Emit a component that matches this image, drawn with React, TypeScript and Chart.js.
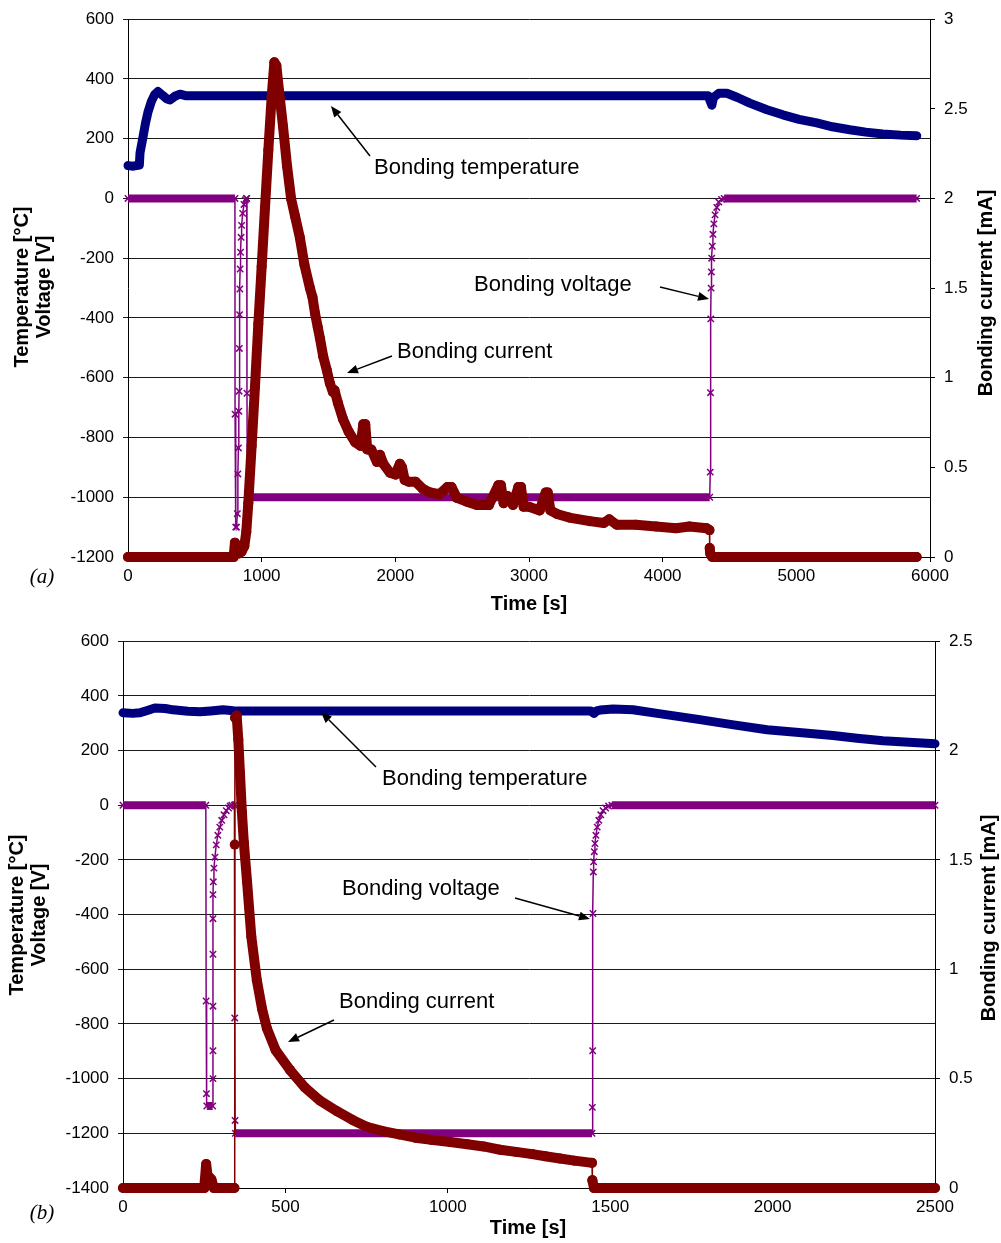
import React, { useEffect, useRef } from "react";
import { Chart, registerables } from "chart.js";

Chart.register(...registerables);

// ---------------- Panel (a) data ----------------
const tempA_t = [0, 40, 85, 90, 110, 130, 150, 175, 200, 224, 260, 290, 314, 350, 389, 430, 500, 1000, 2000, 3000, 4000, 4340, 4368, 4380, 4420, 4480, 4560, 4652, 4780, 4899, 5020, 5153, 5270, 5400, 5520, 5647, 5780, 5901];
const tempA_v = [110, 108, 112, 153, 200, 250, 290, 325, 348, 358, 345, 333, 330, 342, 349, 344, 344, 344, 344, 344, 344, 344, 312, 338, 352, 352, 338, 319, 297, 280, 265, 253, 240, 230, 222, 216, 212, 210];

const voltA_t = [0, 800, 801, 806, 812, 818, 822, 826, 829, 831, 833, 835, 837, 839, 842, 846, 850, 858, 868, 878, 886, 888, 890, 893, 900, 4352, 4356, 4358, 4360, 4362, 4364, 4367, 4371, 4376, 4383, 4392, 4405, 4420, 4440, 4460, 5900];
const voltA_v = [0, 0, -722, -1100, -1100, -1055, -922, -835, -712, -645, -502, -389, -303, -236, -180, -130, -90, -50, -20, -5, 0, 0, -652, -990, -1000, -1000, -916, -650, -403, -300, -246, -200, -160, -120, -85, -55, -30, -12, -3, 0, 0];

const curA_t = [0, 200, 400, 600, 790, 800, 812, 830, 850, 870, 885, 900, 925, 950, 975, 1000, 1025, 1050, 1075, 1095, 1110, 1130, 1160, 1190, 1220, 1250, 1286, 1320, 1361, 1380, 1399, 1420, 1436, 1460, 1488, 1510, 1533, 1545, 1570, 1608, 1650, 1700, 1740, 1760, 1775, 1790, 1820, 1862, 1885, 1910, 1960, 2000, 2034, 2050, 2070, 2100, 2150, 2206, 2260, 2330, 2390, 2420, 2460, 2530, 2610, 2700, 2770, 2790, 2810, 2840, 2880, 2920, 2940, 2960, 3000, 3080, 3125, 3140, 3160, 3209, 3300, 3455, 3560, 3600, 3657, 3800, 3950, 4100, 4200, 4330, 4350, 4352, 4356, 4370, 4500, 4800, 5200, 5600, 5900];
const curA_v = [0, 0, 0, 0, 0, 0.08, 0.03, 0.02, 0.03, 0.06, 0.14, 0.3, 0.62, 0.95, 1.3, 1.62, 1.95, 2.27, 2.57, 2.76, 2.74, 2.6, 2.4, 2.18, 2.0, 1.9, 1.78, 1.63, 1.5, 1.45, 1.36, 1.28, 1.22, 1.12, 1.04, 0.97, 0.92, 0.93, 0.86, 0.77, 0.7, 0.64, 0.62, 0.74, 0.74, 0.6, 0.6, 0.53, 0.57, 0.52, 0.47, 0.46, 0.52, 0.5, 0.43, 0.42, 0.42, 0.38, 0.36, 0.35, 0.39, 0.39, 0.33, 0.31, 0.29, 0.29, 0.4, 0.4, 0.3, 0.34, 0.29, 0.39, 0.39, 0.28, 0.28, 0.26, 0.36, 0.36, 0.26, 0.24, 0.22, 0.2, 0.19, 0.21, 0.18, 0.18, 0.17, 0.16, 0.17, 0.16, 0.15, 0.05, 0.02, 0, 0, 0, 0, 0, 0];

// ---------------- Panel (b) data ----------------
const tempB_t = [0, 30, 52, 70, 98, 130, 154, 200, 237, 270, 308, 340, 360, 500, 1000, 1440, 1450, 1458, 1469, 1509, 1570, 1650, 1776, 1880, 1983, 2090, 2186, 2260, 2340, 2420, 2500];
const tempB_v = [338, 336, 338, 345, 356, 354, 349, 344, 342, 345, 349, 346, 345, 345, 345, 345, 336, 345, 348, 352, 349, 335, 313, 294, 276, 265, 255, 245, 236, 230, 225];

const voltB_t = [0, 255, 256, 257, 258, 276, 277, 277, 277, 277, 277, 277, 278, 280, 283, 287, 292, 298, 304, 311, 318, 325, 330, 335, 343, 344, 345, 346, 1444, 1445, 1446, 1447, 1448, 1449, 1451, 1453, 1456, 1460, 1465, 1471, 1478, 1486, 1495, 1505, 2500];
const voltB_v = [0, 0, -716, -1055, -1100, -1100, -1000, -898, -735, -545, -415, -327, -280, -230, -190, -145, -110, -80, -55, -35, -20, -10, -3, 0, 0, -778, -1153, -1200, -1200, -1105, -898, -396, -244, -207, -170, -140, -110, -80, -55, -35, -20, -10, -3, 0, 0];

const curB_t = [0, 100, 200, 250, 256, 260, 265, 272, 280, 343, 344, 345, 350, 355, 360, 366, 372, 382, 395, 412, 428, 443, 470, 514, 560, 606, 660, 708, 750, 800, 850, 900, 950, 1007, 1060, 1110, 1161, 1210, 1260, 1300, 1345, 1390, 1444, 1445, 1450, 1600, 1800, 2000, 2200, 2400, 2500];
const curB_v = [0, 0, 0, 0, 0.11, 0.06, 0.05, 0.04, 0, 0, 1.57, 2.15, 2.16, 2.05, 1.9, 1.72, 1.58, 1.4, 1.15, 0.95, 0.82, 0.73, 0.63, 0.54, 0.46, 0.4, 0.35, 0.31, 0.28, 0.26, 0.245, 0.23, 0.22, 0.21, 0.2, 0.19, 0.175, 0.165, 0.155, 0.145, 0.135, 0.125, 0.115, 0.036, 0, 0, 0, 0, 0, 0, 0];

// ---------------- styling ----------------
const FONT = '"Liberation Sans", Arial, Helvetica, sans-serif';
const BLUE = "#00007f";
const PURPLE = "#800080";
const RED = "#800000";

const zip = (xs: number[], ys: number[]) => xs.map((x, i) => ({ x, y: ys[i] }));

const annotPlugin = {
  id: "annot",
  afterDraw(chart: any, _args: any, opts: any) {
    const p = opts.panel;
    if (!p) return;
    const ctx = chart.ctx as CanvasRenderingContext2D;
    ctx.save();
    ctx.fillStyle = "#000";
    ctx.strokeStyle = "#000";
    ctx.textBaseline = "middle";

    const rot = (text: string, x: number, y: number) => {
      ctx.save();
      ctx.translate(x, y);
      ctx.rotate(-Math.PI / 2);
      ctx.textAlign = "center";
      ctx.fillText(text, 0, 0);
      ctx.restore();
    };
    ctx.font = `bold 20px ${FONT}`;
    rot("Temperature [°C]", p.leftTitle.x1, p.leftTitle.y);
    rot("Voltage [V]", p.leftTitle.x2, p.leftTitle.y);
    rot("Bonding current [mA]", p.rightTitle.x, p.rightTitle.y);
    ctx.textAlign = "center";
    ctx.fillText("Time [s]", p.xTitle.x, p.xTitle.y);

    ctx.font = `italic 21px "Liberation Serif", "Times New Roman", serif`;
    ctx.textAlign = "center";
    ctx.fillText(p.tag.text, p.tag.x, p.tag.y);

    ctx.font = `22px ${FONT}`;
    ctx.textAlign = "left";
    for (const l of p.labels) ctx.fillText(l.text, l.x, l.y);

    ctx.lineWidth = 1.5;
    for (const a of p.arrows) {
      const [x0, y0, x1, y1] = a;
      const ang = Math.atan2(y1 - y0, x1 - x0);
      const hl = 11, hw = 4.5;
      const bx = x1 - hl * Math.cos(ang), by = y1 - hl * Math.sin(ang);
      ctx.beginPath();
      ctx.moveTo(x0, y0);
      ctx.lineTo(bx, by);
      ctx.stroke();
      ctx.beginPath();
      ctx.moveTo(x1, y1);
      ctx.lineTo(bx + hw * Math.sin(ang), by - hw * Math.cos(ang));
      ctx.lineTo(bx - hw * Math.sin(ang), by + hw * Math.cos(ang));
      ctx.closePath();
      ctx.fill();
    }
    ctx.restore();
  },
};

type PanelCfg = {
  temp: { x: number; y: number }[];
  volt: { x: number; y: number }[];
  cur: { x: number; y: number }[];
  xMax: number;
  xStep: number;
  yMin: number;
  rMax: number;
  leftW: number;
  rightW: number;
  bottomH: number;
  panel: any;
};

function buildConfig(c: PanelCfg): any {
  const tickFont = { family: FONT, size: 17 };
  return {
    type: "line",
    data: {
      datasets: [
        {
          label: "Bonding current",
          data: c.cur,
          yAxisID: "y1",
          order: 0,
          borderColor: RED,
          backgroundColor: RED,
          borderWidth: 10,
          borderJoinStyle: "round",
          borderCapStyle: "round",
          pointRadius: 5,
          pointStyle: "circle",
          pointBackgroundColor: RED,
          pointBorderColor: RED,
          pointBorderWidth: 0,
          tension: 0,
          clip: false,
          segment: {
            borderWidth: (s: any) =>
              Math.abs(s.p1.x - s.p0.x) < 1 && Math.abs(s.p1.y - s.p0.y) > 6 ? 1.5 : 10,
          },
        },
        {
          label: "Bonding voltage",
          data: c.volt,
          yAxisID: "y",
          order: 1,
          borderColor: PURPLE,
          backgroundColor: PURPLE,
          borderWidth: 1.5,
          borderCapStyle: "butt",
          pointRadius: 4.5,
          pointStyle: "crossRot",
          pointBorderColor: PURPLE,
          pointBorderWidth: 1.5,
          tension: 0,
          clip: false,
          segment: {
            borderWidth: (s: any) => (s.p0.parsed.y === s.p1.parsed.y ? 8 : 1.5),
          },
        },
        {
          label: "Bonding temperature",
          data: c.temp,
          yAxisID: "y",
          order: 2,
          borderColor: BLUE,
          backgroundColor: BLUE,
          borderWidth: 9,
          borderJoinStyle: "round",
          borderCapStyle: "round",
          pointRadius: 0,
          tension: 0,
          clip: false,
        },
      ],
    },
    options: {
      animation: false,
      responsive: false,
      maintainAspectRatio: false,
      events: [],
      layout: { padding: { top: 16, left: 0, right: 0, bottom: 0 } },
      plugins: {
        legend: { display: false },
        tooltip: { enabled: false },
        annot: { panel: c.panel },
      },
      scales: {
        x: {
          type: "linear",
          position: "bottom",
          min: 0,
          max: c.xMax,
          ticks: {
            stepSize: c.xStep,
            font: tickFont,
            color: "#000",
            padding: 4,
            maxRotation: 0,
            autoSkip: false,
            callback: (v: number) => String(v),
          },
          grid: { display: true, drawOnChartArea: false, drawTicks: true, tickLength: 5, color: "#000" },
          border: { display: true, color: "#000", width: 1 },
          afterFit: (s: any) => {
            s.height = c.bottomH;
          },
        },
        y: {
          type: "linear",
          position: "left",
          min: c.yMin,
          max: 600,
          ticks: {
            stepSize: 200,
            font: tickFont,
            color: "#000",
            padding: 9,
            callback: (v: number) => String(v),
          },
          grid: { display: true, color: "#1a1a1a", lineWidth: 1, tickLength: 5 },
          border: { display: true, color: "#000", width: 1 },
          afterFit: (s: any) => {
            s.width = c.leftW;
          },
        },
        y1: {
          type: "linear",
          position: "right",
          min: 0,
          max: c.rMax,
          ticks: {
            stepSize: 0.5,
            font: tickFont,
            color: "#000",
            padding: 9,
            callback: (v: number) => String(v),
          },
          grid: { display: true, drawOnChartArea: false, tickLength: 5, color: "#000" },
          border: { display: true, color: "#000", width: 1 },
          afterFit: (s: any) => {
            s.width = c.rightW;
          },
        },
      },
    },
    plugins: [annotPlugin],
  };
}

const panelA = {
  labels: [
    { text: "Bonding temperature", x: 374, y: 168 },
    { text: "Bonding voltage", x: 474, y: 285 },
    { text: "Bonding current", x: 397, y: 352 },
  ],
  arrows: [
    [370, 156, 331, 106],
    [660, 287, 709, 299],
    [392, 356, 347, 373],
  ],
  leftTitle: { x1: 22, x2: 44, y: 287 },
  rightTitle: { x: 986, y: 293 },
  xTitle: { x: 529, y: 604 },
  tag: { text: "(a)", x: 42, y: 577 },
};

const panelB = {
  labels: [
    { text: "Bonding temperature", x: 382, y: 157 },
    { text: "Bonding voltage", x: 342, y: 267 },
    { text: "Bonding current", x: 339, y: 380 },
  ],
  arrows: [
    [376, 145, 321, 90],
    [515, 276, 590, 297],
    [334, 398, 288, 420],
  ],
  leftTitle: { x1: 17, x2: 39, y: 293 },
  rightTitle: { x: 989, y: 296 },
  xTitle: { x: 528, y: 606 },
  tag: { text: "(b)", x: 42, y: 591 },
};

function ChartCanvas({ cfg, width, height }: { cfg: PanelCfg; width: number; height: number }) {
  const ref = useRef<HTMLCanvasElement | null>(null);
  useEffect(() => {
    if (!ref.current) return;
    const chart = new Chart(ref.current, buildConfig(cfg));
    return () => chart.destroy();
  }, []);
  return <canvas ref={ref} width={width} height={height} style={{ display: "block", width, height }} />;
}

export default function App() {
  const cfgA: PanelCfg = {
    temp: zip(tempA_t, tempA_v),
    volt: zip(voltA_t, voltA_v),
    cur: zip(curA_t, curA_v),
    xMax: 6000,
    xStep: 1000,
    yMin: -1200,
    rMax: 3,
    leftW: 128,
    rightW: 71,
    bottomH: 65,
    panel: panelA,
  };
  const cfgB: PanelCfg = {
    temp: zip(tempB_t, tempB_v),
    volt: zip(voltB_t, voltB_v),
    cur: zip(curB_t, curB_v),
    xMax: 2500,
    xStep: 500,
    yMin: -1400,
    rMax: 2.5,
    leftW: 123,
    rightW: 66,
    bottomH: 55,
    panel: panelB,
  };
  return (
    <div style={{ position: "absolute", left: 0, top: 0, width: 1001, height: 1243, background: "#fff" }}>
      <div style={{ position: "absolute", left: 0, top: 0 }}>
        <ChartCanvas cfg={cfgA} width={1001} height={622} />
      </div>
      <div style={{ position: "absolute", left: 0, top: 622 }}>
        <ChartCanvas cfg={cfgB} width={1001} height={621} />
      </div>
    </div>
  );
}
